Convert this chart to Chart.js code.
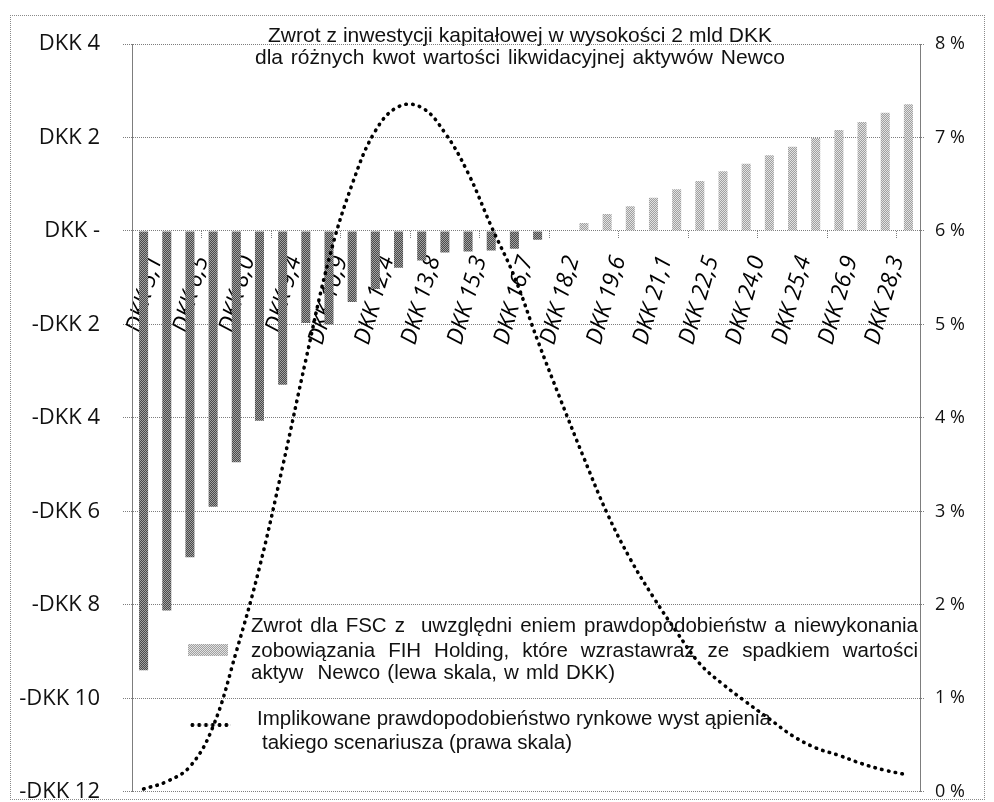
<!DOCTYPE html>
<html>
<head>
<meta charset="utf-8">
<script src="https://cdn.jsdelivr.net/npm/chart.js@4.4.1/dist/chart.umd.min.js"></script>
<style>
  html, body { margin: 0; padding: 0; background: #fff; overflow: hidden; }
  #wrap { position: relative; width: 994px; height: 802px; overflow: hidden; }
  #c { position: absolute; left: 0; top: 0; }
  .frame { position: absolute; left: 10px; top: 15px; width: 975px; height: 785px;
           border: 1px dotted #8a8a8a; box-sizing: border-box; pointer-events: none; }
  .t { position: absolute; font-family: 'Liberation Sans', Arial, sans-serif; color: #111;
       white-space: pre; height: 24px; line-height: 24px; }
  .title { font-size: 21px; }
  .leg { font-size: 20.5px; }
  .sw-bar { position: absolute; left: 188px; top: 644px; width: 40px; height: 12px;
            background: repeating-conic-gradient(#a0a0a0 0 25%, #e2e2e2 0 50%) 0 0 / 2px 2px; }
  .sw-line { position: absolute; left: 189px; top: 722px; width: 42px; height: 6px;
             background: radial-gradient(circle, #000 1.7px, rgba(0,0,0,0) 2.2px) 0 0 / 6.8px 6px repeat-x; }
</style>
</head>
<body>
<div id="wrap">
  <canvas id="c" width="994" height="828" style="width:994px;height:828px"></canvas>
  <div class="frame"></div>
  <div class="t title" data-w="504" style="left:268px; top:23px;">Zwrot z inwestycji kapitałowej w wysokości 2 mld DKK</div>
  <div class="t title" data-w="530" style="left:255px; top:45px;">dla różnych kwot wartości likwidacyjnej aktywów Newco</div>

  <div class="sw-bar"></div>
  <div class="t leg" data-w="667" style="left:251px; top:613px;">Zwrot dla FSC z  uwzględni eniem prawdopodobieństw a niewykonania</div>
  <div class="t leg" data-w="667" style="left:251px; top:638px;">zobowiązania FIH Holding, które wzrastawraz ze spadkiem wartości</div>
  <div class="t leg" data-w="364" style="left:251px; top:660px;">aktyw  Newco (lewa skala, w mld DKK)</div>
  <div class="sw-line"></div>
  <div class="t leg" data-w="513" style="left:257px; top:706px;">Implikowane prawdopodobieństwo rynkowe wyst ąpienia</div>
  <div class="t leg" data-w="310" style="left:262px; top:730px;">takiego scenariusza (prawa skala)</div>
</div>

<script>
// liquidation value of Newco assets (bn DKK), every second one is labelled
const categories = [
  'DKK 5,1', 'DKK 5,8', 'DKK 6,5', 'DKK 7,3', 'DKK 8,0', 'DKK 8,7', 'DKK 9,4', 'DKK 10,2',
  'DKK 10,9', 'DKK 11,6', 'DKK 12,4', 'DKK 13,1', 'DKK 13,8', 'DKK 14,5', 'DKK 15,3', 'DKK 16,0',
  'DKK 16,7', 'DKK 17,4', 'DKK 18,2', 'DKK 18,9', 'DKK 19,6', 'DKK 20,3', 'DKK 21,1', 'DKK 21,8',
  'DKK 22,5', 'DKK 23,2', 'DKK 24,0', 'DKK 24,7', 'DKK 25,4', 'DKK 26,1', 'DKK 26,9', 'DKK 27,6',
  'DKK 28,3', 'DKK 29,0'
];

// FSC return, bn DKK (left scale)
const returnValues = [
  -9.40, -8.12, -6.98, -5.90, -4.95, -4.06, -3.29, -1.97,
  -2.00, -1.52, -1.24, -0.79, -0.63, -0.46, -0.44, -0.42,
  -0.38, -0.19, 0.00, 0.17, 0.36, 0.53, 0.71, 0.89,
  1.07, 1.28, 1.44, 1.62, 1.80, 1.99, 2.16, 2.33,
  2.53, 2.71
];

// implied market probability, % (right scale)
const probabilityValues = [
  0.03, 0.11, 0.27, 0.70, 1.50, 2.40, 3.48, 4.62,
  5.70, 6.50, 7.07, 7.33, 7.32, 7.05, 6.62, 6.05,
  5.51, 4.83, 4.19, 3.57, 2.98, 2.49, 2.08, 1.71,
  1.37, 1.15, 0.96, 0.78, 0.60, 0.47, 0.39, 0.30,
  0.23, 0.18
];

const leftTickValues = [-12, -10, -8, -6, -4, -2, 0, 2, 4];
const leftTickLabels = ['-DKK 12', '-DKK 10', '-DKK 8', '-DKK 6', '-DKK 4', '-DKK 2', 'DKK -', 'DKK 2', 'DKK 4'];
const rightTickLabels = ['0 %', '1 %', '2 %', '3 %', '4 %', '5 %', '6 %', '7 %', '8 %'];

// stretch word gaps so every text line spans the width it has in the original
document.querySelectorAll('.t').forEach((el) => {
  const target = parseFloat(el.dataset.w);
  const natural = el.getBoundingClientRect().width;
  const gaps = (el.textContent.match(/ /g) || []).length;
  if (gaps > 0 && target > natural) el.style.wordSpacing = ((target - natural) / gaps) + 'px';
});

function makePattern(a, b){
  const c = document.createElement('canvas');
  c.width = 2; c.height = 2;
  const g = c.getContext('2d');
  g.fillStyle = a; g.fillRect(0, 0, 2, 2);
  g.fillStyle = b; g.fillRect(0, 0, 1, 1); g.fillRect(1, 1, 1, 1);
  return g.createPattern(c, 'repeat');
}
const darkFill = makePattern('#4a4a4a', '#a2a2a2');
const lightFill = makePattern('#a0a0a0', '#e2e2e2');

const gridColor = '#7d7d7d';
const dots = [1, 1];

new Chart(document.getElementById('c'), {
  type: 'bar',
  data: {
    labels: categories,
    datasets: [
      {
        type: 'line',
        data: probabilityValues,
        yAxisID: 'y1',
        borderColor: '#000',
        borderWidth: 3.6,
        borderDash: [0.5, 6.4],
        borderCapStyle: 'round',
        pointRadius: 0,
        tension: 0.4,
        fill: false,
        order: 0
      },
      {
        type: 'bar',
        data: returnValues,
        yAxisID: 'y',
        backgroundColor: (ctx) => (ctx.raw < 0 ? darkFill : lightFill),
        barPercentage: 0.39,
        categoryPercentage: 1,
        order: 1
      }
    ]
  },
  options: {
    responsive: false,
    devicePixelRatio: 1,
    animation: false,
    layout: { padding: { top: 44, bottom: 11, left: 0, right: 0 } },
    plugins: { legend: { display: false }, tooltip: { enabled: false } },
    scales: {
      x: {
        type: 'category',
        position: { y: 0 },
        offset: true,
        border: { display: false },
        grid: {
          display: true,
          drawOnChartArea: false,
          drawTicks: true,
          offset: true,
          tickLength: 8,
          color: (ctx) => (ctx.index % 3 === 0 ? gridColor : 'rgba(0,0,0,0)'),
          tickBorderDash: dots
        },
        ticks: {
          autoSkip: false,
          minRotation: 74,
          maxRotation: 74,
          padding: 14,
          labelOffset: 12,
          color: '#000',
          font: { family: "'Open Sans'", style: 'italic', size: 23 },
          callback: (v, i) => (i % 2 === 0 ? categories[i] : '')
        }
      },
      y: {
        position: 'left',
        min: -12,
        max: 4,
        afterFit: (s) => { s.width = 132; },
        border: { display: true, color: gridColor, dash: dots },
        grid: { color: gridColor, borderDash: dots, tickLength: 9, tickBorderDash: dots },
        ticks: {
          stepSize: 2,
          padding: 23,
          color: '#111',
          font: { family: "'Open Sans'", size: 22 },
          callback: (v) => { const k = leftTickValues.indexOf(v); return k < 0 ? '' : leftTickLabels[k]; }
        }
      },
      y1: {
        position: 'right',
        min: 0,
        max: 8,
        afterFit: (s) => { s.width = 74; },
        border: { display: true, color: gridColor, dash: dots },
        grid: { drawOnChartArea: false, color: gridColor, tickLength: 5, tickBorderDash: dots },
        ticks: {
          stepSize: 1,
          padding: 10,
          color: '#111',
          font: { family: "'Open Sans'", size: 18 },
          callback: (v) => rightTickLabels[v]
        }
      }
    }
  }
});
</script>
</body>
</html>
